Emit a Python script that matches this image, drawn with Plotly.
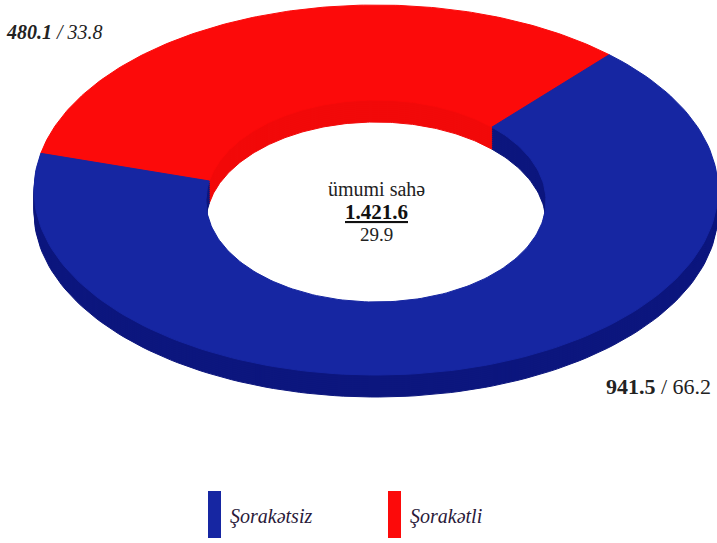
import numpy as np
import plotly.graph_objects as go

# ---- data ----
categories = ["Şorakətsiz", "Şorakətli"]
area = [941.5, 480.1]          # thousand ha
share = [66.2, 33.8]           # percent
total_area = "1.421.6"
total_share = "29.9"
center_title = "ümumi sahə"

top_colors = ["#1626a2", "#fc0a0a"]
side_colors = ["#0c167e", "#f20909"]

# ---- geometry of the tilted donut (pixel space) ----
W, H = 717, 543
CX = 376
OUT_CY, OUT_A, OUT_B = 190, 342, 185
IN_CY, IN_A, IN_B = 201, 170, 101
DEPTH = 22
START_DEG = 47  # where the red segment starts (counter-clockwise)

total = sum(area)
order = [1, 0]
segs = []
a0 = START_DEG
for i in order:
    span = 360.0 * area[i] / total
    segs.append((i, a0, a0 + span))
    a0 += span


def seg_poly(t0, t1, dy):
    t = np.radians(np.linspace(t0, t1, 160))
    xo = CX + OUT_A * np.cos(t)
    yo = OUT_CY - OUT_B * np.sin(t) + dy
    xi = CX + IN_A * np.cos(t[::-1])
    yi = IN_CY - IN_B * np.sin(t[::-1]) + dy
    x = np.concatenate([xo, xi, xo[:1]])
    y = np.concatenate([yo, yi, yo[:1]])
    return x, y


fig = go.Figure()
shifts = list(range(DEPTH, 0, -2)) + [0]
for dy in shifts:
    for (i, t0, t1) in segs:
        x, y = seg_poly(t0, t1, dy)
        col = top_colors[i] if dy == 0 else side_colors[i]
        fig.add_trace(go.Scatter(
            x=x, y=y, mode="lines", fill="toself", fillcolor=col,
            line=dict(color=col, width=1), hoverinfo="skip", showlegend=False))

FONT = "Liberation Serif"
ann = []
ann.append(dict(x=CX, y=189, text=center_title, font=dict(size=20, color="#222")))
ann.append(dict(x=CX, y=212, text=f"<b><u>{total_area}</u></b>", font=dict(size=21, color="#111")))
ann.append(dict(x=CX, y=234, text=total_share, font=dict(size=19, color="#222")))
ann.append(dict(x=4, y=32, xanchor="left",
                text=f"<b><i>{area[1]}</i></b><i> / {share[1]}</i>",
                font=dict(size=20, color="#222")))
ann.append(dict(x=713, y=386, xanchor="right",
                text=f"<b>{area[0]}</b> / {share[0]}",
                font=dict(size=22, color="#222")))
# legend
leg_x = [208, 388]
shapes = []
for k, i in enumerate([0, 1]):
    shapes.append(dict(type="rect", xref="x", yref="y", x0=leg_x[k], x1=leg_x[k] + 13,
                       y0=491, y1=538, fillcolor=top_colors[i], line=dict(width=0)))
    ann.append(dict(x=leg_x[k] + 20, y=516, xanchor="left",
                    text=f"<i>{categories[i]}</i>", font=dict(size=20, color="#2a1a3a")))

for a in ann:
    a.setdefault("xanchor", "center")
    a.update(xref="x", yref="y", showarrow=False, yanchor="middle")
    a["font"]["family"] = FONT

fig.update_layout(
    width=W, height=H, margin=dict(l=0, r=0, t=0, b=0),
    paper_bgcolor="white", plot_bgcolor="white",
    xaxis=dict(range=[0, W], visible=False, fixedrange=True),
    yaxis=dict(range=[H, 0], visible=False, fixedrange=True),
    annotations=ann, shapes=shapes, showlegend=False,
)
fig.write_html("out.html", config={"displayModeBar": False},
               post_script="document.body.style.margin='0';document.body.style.overflow='hidden';")
